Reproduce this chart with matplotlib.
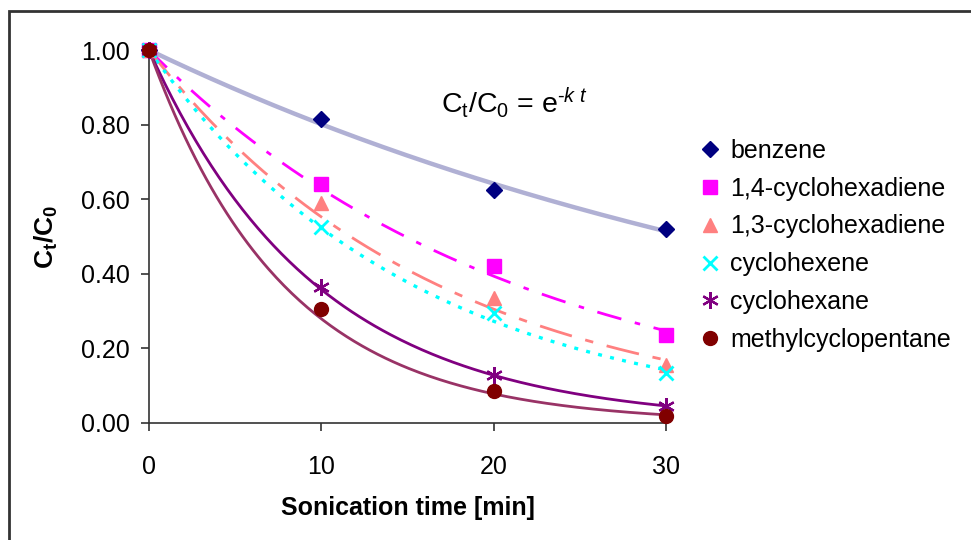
import matplotlib
matplotlib.use('Agg')
import matplotlib.pyplot as plt
from matplotlib.patches import Rectangle
import numpy as np

plt.rcParams['font.family'] = ['Liberation Sans', 'DejaVu Sans']
plt.rcParams['mathtext.fontset'] = 'custom'
plt.rcParams['mathtext.rm'] = 'Liberation Sans'
plt.rcParams['mathtext.it'] = 'Liberation Sans:italic'
plt.rcParams['mathtext.bf'] = 'Liberation Sans:bold'

# sonication time [min] and measured Ct/C0
times = [0, 10, 20, 30]
compounds = ['benzene', '1,4-cyclohexadiene', '1,3-cyclohexadiene',
             'cyclohexene', 'cyclohexane', 'methylcyclopentane']
benzene = [1.00, 0.815, 0.625, 0.52]
chd_14 = [1.00, 0.64, 0.42, 0.235]
chd_13 = [1.00, 0.59, 0.335, 0.155]
cyclohexene = [1.00, 0.525, 0.295, 0.135]
cyclohexane = [1.00, 0.365, 0.13, 0.045]
methylcyclopentane = [1.00, 0.305, 0.085, 0.02]
series = [benzene, chd_14, chd_13, cyclohexene, cyclohexane, methylcyclopentane]

marker_styles = [
    dict(marker='D', color='#000080', ms=8.5),
    dict(marker='s', color='#FF00FF', ms=10),
    dict(marker='^', color='#FF8080', ms=10),
    dict(marker='x', color='#00FFFF', ms=10, mew=2),
    dict(marker=(6, 2, 0), color='#800080', ms=12, mew=1.6),
    dict(marker='o', color='#800000', ms=10),
]
line_styles = [
    dict(color='#B0B0D4', lw=3.2, ls='-'),
    dict(color='#FF00FF', lw=2, ls=(0, (9, 5, 2, 5))),
    dict(color='#FF8080', lw=2, ls=(0, (12, 5, 3, 5))),
    dict(color='#00FFFF', lw=2.4, ls=(0, (1.2, 2.5))),
    dict(color='#800080', lw=2, ls='-'),
    dict(color='#993366', lw=2, ls='-'),
]

fig = plt.figure(figsize=(9.71, 5.4), dpi=100)
ax = fig.add_axes([149 / 971, 1 - 423 / 540, (666 - 149) / 971, (423 - 50) / 540])

t = np.array(times, dtype=float)
tt = np.linspace(0, 30, 200)
# exponential trendlines through (0, 1): ln(C/C0) = -k t
for vals, ls in zip(series, line_styles):
    y = np.log(np.array(vals))
    k = -np.sum(t * y) / np.sum(t * t)
    ax.plot(tt, np.exp(-k * tt), zorder=2, **ls)

for name, vals, ms in zip(compounds, series, marker_styles):
    ax.plot(times, vals, ls='none', label=name, clip_on=False, zorder=3,
            markeredgecolor=ms['color'], markerfacecolor=ms['color'],
            marker=ms['marker'], markersize=ms['ms'], mew=ms.get('mew', 1))

ax.set_xlim(0, 30)
ax.set_ylim(0, 1.0)
ax.set_xticks(times)
ax.set_yticks(np.arange(0, 1.01, 0.2))
ax.set_yticklabels([f'{v:.2f}' for v in np.arange(0, 1.01, 0.2)])
for s in ['top', 'right']:
    ax.spines[s].set_visible(False)
for s in ['left', 'bottom']:
    ax.spines[s].set_color('#333333')
    ax.spines[s].set_linewidth(1.2)
ax.tick_params(axis='both', direction='out', length=6, width=1.2, color='#333333',
               labelsize=18)
ax.tick_params(axis='x', pad=17)
ax.tick_params(axis='y', pad=8)

ax.set_xlabel('Sonication time [min]', fontsize=18, fontweight='bold', labelpad=12)
ax.set_ylabel(r'$\mathbf{C_t/C_0}$', fontsize=19, labelpad=15)

fig.text(514 / 971, 1 - 102 / 540, r'C$_\mathrm{t}$/C$_0$ = e$^{\text{-}k\ t}$',
         fontsize=20.5, ha='center', va='center')

ax.legend(loc='upper left', bbox_to_anchor=(700 / 971, 1 - 139 / 540),
          bbox_transform=fig.transFigure, frameon=False, fontsize=18,
          handlelength=0.8, handletextpad=0.4, labelspacing=0.55,
          borderaxespad=0, borderpad=0)

fig.patches.append(Rectangle((9 / 971, -0.1), 1.2, 1 - 11 / 540 + 0.1,
                             transform=fig.transFigure, fill=False,
                             edgecolor='#333333', lw=2))

fig.savefig('out.png', dpi=100)
